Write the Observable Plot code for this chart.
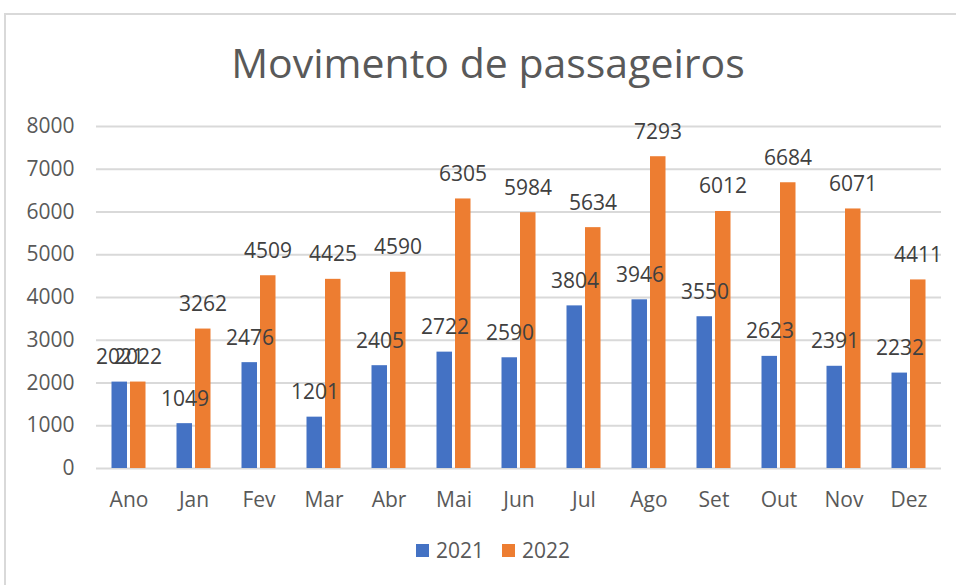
<!DOCTYPE html>
<html><head><meta charset="utf-8">
<script src="https://cdn.jsdelivr.net/npm/d3@7"></script>
<script src="https://cdn.jsdelivr.net/npm/@observablehq/plot@0.6"></script>
<style>
body{margin:0;background:#fff;}
#wrap{position:relative;width:956px;height:585px;overflow:hidden;font-family:"Open Sans",sans-serif;}
#frame{position:absolute;left:4px;top:13px;width:1000px;height:700px;border:2px solid #d9d9d9;box-sizing:border-box;}
#chart{position:absolute;left:0;top:0;}
#title{position:absolute;left:0;width:976px;top:38px;text-align:center;font-size:41px;color:#595959;line-height:1.2;}
#legend{position:absolute;left:0;width:986px;top:536px;display:flex;justify-content:center;align-items:center;font-size:21px;color:#595959;}
#legend .sw{display:inline-block;width:13px;height:13px;margin-right:7px;}
#legend .it{display:flex;align-items:center;margin:0 9px;}
</style></head>
<body>
<div id="wrap">
  <div id="frame"></div>
  <div id="chart"></div>
  <div id="title">Movimento de passageiros</div>
  <div id="legend"></div>
</div>
<script>
const months = ["Ano","Jan","Fev","Mar","Abr","Mai","Jun","Jul","Ago","Set","Out","Nov","Dez"];
const series = ["2021","2022"];
const values2021 = [2021,1049,2476,1201,2405,2722,2590,3804,3946,3550,2623,2391,2232];
const values2022 = [2022,3262,4509,4425,4590,6305,5984,5634,7293,6012,6684,6071,4411];
const yTicks = [0,1000,2000,3000,4000,5000,6000,7000,8000];
const colors = ["#4472C4","#ED7D31"];

const d2021 = months.map((m,i)=>({month:m, year:series[0], value:values2021[i]}));
const d2022 = months.map((m,i)=>({month:m, year:series[1], value:values2022[i]}));

const fmt = d3.format("d");
const chart = Plot.plot({
  width:956, height:585,
  marginTop:126, marginBottom:117, marginLeft:96, marginRight:15,
  style:{fontFamily:"'Open Sans',sans-serif", fontSize:"21px", color:"#595959", background:"transparent"},
  x:{domain:months, padding:0, label:null, tickSize:0, tickPadding:24},
  y:{domain:[0,8000], ticks:yTicks, tickFormat:fmt, label:null, tickSize:0, tickPadding:22},
  marks:[
    Plot.ruleY(yTicks, {stroke:"#d9d9d9", strokeWidth:2}),
    Plot.barY(d2021, {x:"month", y:"value", fill:colors[0], insetLeft:15.5, insetRight:34}),
    Plot.barY(d2022, {x:"month", y:"value", fill:colors[1], insetLeft:34, insetRight:15.5}),
    Plot.text(d2021, {x:"month", y:"value", text:d=>fmt(d.value), dx:-9, dy:-18, lineAnchor:"bottom", fill:"#404040", fontSize:21}),
    Plot.text(d2022, {x:"month", y:"value", text:d=>fmt(d.value), dx:9, dy:-18, lineAnchor:"bottom", fill:"#404040", fontSize:21})
  ]
});
document.getElementById("chart").appendChild(chart);

const lg = document.getElementById("legend");
series.forEach((s,i)=>{
  const it = document.createElement("span"); it.className="it";
  const sw = document.createElement("span"); sw.className="sw"; sw.style.background=colors[i];
  it.appendChild(sw); it.appendChild(document.createTextNode(s));
  lg.appendChild(it);
});
</script>
</body></html>
